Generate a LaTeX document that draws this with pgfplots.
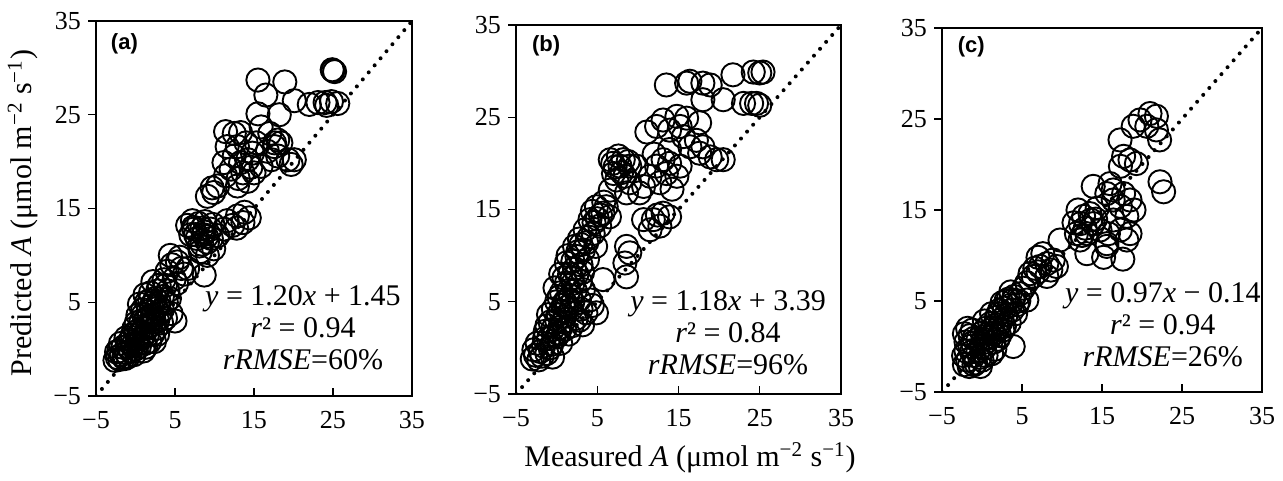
\documentclass[border=0pt]{standalone}
\usepackage{pgfplots}
\pgfplotsset{compat=1.18}
\usepackage{fontspec}
\setmainfont{Liberation Serif}
\newfontfamily\arialfont{Liberation Sans}
\tikzset{
 ann/.style={align=center, font=\fontsize{15}{16}\selectfont},
 plab/.style={anchor=west, font=\arialfont\bfseries\fontsize{11}{13}\selectfont},
}
\pgfplotsset{
 panel/.style={
  scale only axis, anchor=south west,
  xmin=-5,xmax=35,ymin=-5,ymax=35,
  xtick=\empty,
  extra x ticks={-5,5,15,25,35}, extra x tick labels={−5,5,15,25,35},
  extra x tick style={tick align=inside},
  xticklabel style={yshift=-4pt},
  ytick={-5,5,15,25,35}, yticklabels={−5,5,15,25,35},
  tick pos=left, tick align=outside, major tick length=4pt,
  tick style={line width=0.7pt, black},
  tick label style={font=\fontsize{13}{15}\selectfont},
  axis line style={line width=0.8pt},
 },
 circ/.style={only marks, mark=o, mark size=5.8pt, mark options={line width=0.95pt, black}},
 oneone/.style={black, line width=2pt, line cap=round, dash pattern=on 0pt off 4.6pt},
}
\begin{document}
\begin{tikzpicture}
\useasboundingbox (0,0) rectangle (641.5pt,240.5pt);
% ---------------- (a)
\begin{axis}[panel, at={(48pt,42.5pt)}, width=158pt, height=187.5pt]
\addplot[oneone] coordinates {(-5,-5) (35,35)};
\addplot[circ] table {
x y
-2.6 -1.2
-2.3 -0.9
-2.0 -1.1
-1.8 -0.6
-2.4 -0.3
-1.5 -0.9
-1.2 -0.4
-1.6 0.2
-1.0 0.3
-0.6 -0.2
-0.8 0.8
-0.3 0.5
0.0 0.0
0.2 1.0
-0.4 1.5
0.5 0.3
0.8 1.2
1.2 0.6
0.4 2.0
1.0 2.2
1.5 1.5
1.8 0.8
0.1 2.8
0.7 3.0
1.3 3.2
1.9 2.5
2.2 1.6
2.6 2.2
1.6 4.0
2.2 3.6
2.8 3.0
0.9 4.2
1.4 5.0
2.0 4.6
2.6 4.3
3.1 3.8
1.2 5.8
1.9 6.0
2.5 5.4
3.0 5.0
3.4 4.2
2.8 6.2
0.3 3.6
-0.2 2.2
-1.2 1.2
2.4 0.8
1.0 -0.2
3.3 2.8
4.5 3.8
5.0 3.0
-2.1 -0.2
-1.3 -1.0
-0.9 -0.8
-0.2 -0.6
0.3 0.6
0.6 1.7
1.1 1.5
1.6 2.4
2.0 3.2
2.4 2.9
1.7 3.4
1.0 3.7
0.5 4.8
1.8 5.2
2.3 5.0
2.9 4.6
3.4 5.6
3.9 5.0
4.1 6.2
3.0 6.8
2.2 7.2
-0.6 1.0
-1.9 0.6
0.0 1.8
1.3 0.2
2.8 1.6
3.8 3.3
4.3 5.4
3.6 7.4
4.0 8.3
4.6 9.0
5.3 9.3
5.8 8.6
6.2 8.0
4.9 7.5
4.4 10.0
5.6 9.8
6.6 8.6
3.8 6.8
5.2 7.0
6.6 13.2
7.2 13.7
7.4 12.8
8.0 13.4
8.7 12.5
9.5 12.8
7.8 11.8
8.4 11.2
9.1 11.4
9.9 10.7
8.2 10.4
10.4 12.1
9.1 10.0
8.7 7.9
7.0 12.2
9.8 13.3
8.8 13.6
7.6 12.2
8.4 12.9
9.0 12.0
8.1 11.0
9.6 11.8
7.3 13.0
8.6 12.2
12.9 14.2
13.8 14.6
12.3 13.2
13.6 13.5
14.4 14.0
11.6 13.7
11.2 12.8
12.8 12.9
9.9 16.7
10.4 17.4
9.7 17.2
9.1 16.3
11.6 21.6
12.5 20.6
13.3 19.9
14.2 20.2
14.8 20.9
12.1 19.2
13.6 18.8
15.0 18.8
14.2 17.9
12.9 17.4
11.4 18.5
15.9 19.5
14.0 22.0
15.3 22.0
11.2 19.9
12.9 21.6
13.0 18.2
14.6 19.4
16.7 21.1
18.0 20.6
19.3 20.2
20.1 20.2
18.4 22.0
19.7 19.7
17.6 21.6
17.2 20.2
11.4 23.2
13.3 23.1
12.5 23.0
15.9 23.7
17.0 23.0
18.0 22.3
17.6 22.0
15.5 25.1
18.2 25.0
16.5 27.1
15.5 28.7
18.9 28.5
20.1 26.5
22.0 26.1
23.1 26.3
24.0 26.3
24.8 26.4
25.6 26.2
24.2 26.0
25.0 29.7
25.2 29.6
24.9 29.8
};
\node[ann] at (axis cs:21.2,2.25) {\textit{y} = 1.20\textit{x} + 1.45\\ \textit{r}² = 0.94\\ \textit{rRMSE}=60\%};
\node[plab] at (axis cs:-4.0,32.6) {(a)};
\end{axis}
% ---------------- (b)
\begin{axis}[panel, at={(258pt,43.5pt)}, width=162.5pt, height=184.5pt]
\addplot[oneone] coordinates {(-5,-5) (35,35)};
\addplot[circ] table {
x y
-3.0 -1.2
-2.6 -0.8
-2.2 -1.3
-2.0 -0.4
-1.6 0.2
-2.4 0.5
-1.2 -0.6
-1.0 1.0
-0.6 0.4
-0.5 2.0
-1.4 1.8
0.0 1.2
0.0 3.0
-0.8 2.8
0.4 2.2
0.5 4.0
0.0 5.0
1.0 5.0
0.6 6.0
1.0 3.4
1.5 6.2
1.2 7.0
2.0 7.0
1.6 8.0
2.5 8.0
2.0 9.4
3.0 9.0
1.2 9.2
0.5 8.0
2.6 10.4
2.0 5.0
2.4 3.2
1.5 1.5
1.0 2.0
0.5 0.5
-0.5 -1.0
2.8 3.0
3.2 2.5
2.8 5.2
3.3 6.3
-1.0 3.6
-0.2 6.5
1.8 4.2
3.6 3.8
4.4 4.6
4.9 3.8
4.1 5.2
2.2 11.0
-2.8 -0.2
-1.8 -0.9
-1.5 1.0
-0.8 0.0
-0.3 1.4
0.3 1.6
0.2 3.6
-0.4 4.2
0.8 4.6
0.3 5.5
1.3 4.4
1.7 5.6
0.9 7.6
1.9 7.6
2.3 6.2
2.9 7.2
3.2 8.2
2.2 8.6
1.4 10.0
2.8 11.8
3.0 4.2
1.9 2.4
-1.2 2.4
0.8 2.8
3.8 9.6
2.5 9.9
3.3 10.6
3.7 11.4
4.5 12.4
5.3 13.2
4.1 13.9
5.7 14.6
4.9 15.3
6.1 15.3
3.5 12.8
4.8 11.0
6.5 14.2
5.0 14.0
4.0 12.0
4.6 13.6
5.4 14.4
3.0 11.2
5.8 15.8
4.4 14.8
8.6 11.0
9.0 10.3
8.4 9.2
8.6 7.7
5.7 7.4
6.6 20.4
8.2 20.4
7.8 19.7
7.0 18.9
9.0 19.7
7.4 18.2
9.0 17.9
10.2 16.8
8.6 16.8
6.6 17.1
9.8 19.7
7.6 20.8
8.4 18.6
7.2 19.6
8.0 19.0
8.8 20.2
6.9 20.0
13.9 21.5
13.1 20.4
12.3 19.7
13.5 18.9
14.8 18.6
11.5 18.6
13.9 20.0
12.7 17.9
15.2 19.7
10.7 17.5
12.0 21.0
14.2 17.2
11.9 13.9
13.1 14.6
13.9 14.2
11.5 12.8
12.7 13.2
10.7 13.9
12.4 14.4
17.2 22.5
18.0 21.8
18.9 20.7
19.7 20.4
17.6 21.1
16.4 21.8
20.5 20.4
15.6 22.9
13.1 24.7
14.8 25.1
16.0 24.9
17.6 24.4
11.1 23.4
12.3 24.0
13.9 23.6
15.2 24.0
13.5 28.5
16.0 28.7
18.0 28.7
18.9 28.5
16.4 28.9
18.0 26.9
20.5 26.9
23.0 26.5
24.0 26.5
24.6 26.5
25.0 26.3
21.7 29.6
24.2 29.9
25.4 29.9
25.0 29.8
};
\node[ann] at (axis cs:21.1,1.6) {\textit{y} = 1.18\textit{x} + 3.39\\ \textit{r}² = 0.84\\ \textit{rRMSE}=96\%};
\node[plab] at (axis cs:-3.9,32.7) {(b)};
\end{axis}
% ---------------- (c)
\begin{axis}[panel, at={(471pt,44.5pt)}, width=160pt, height=182pt]
\addplot[oneone] coordinates {(-5,-5) (35,35)};
\addplot[circ] table {
x y
-2.2 -2.0
-1.8 -1.5
-2.0 -0.5
-1.5 0.0
-1.0 -1.0
-0.5 -0.5
0.0 0.0
0.5 0.5
-0.5 0.8
-1.5 1.2
-2.0 0.5
1.0 1.0
1.5 1.5
0.5 2.0
1.0 2.5
2.0 2.0
2.5 3.0
1.8 3.2
3.0 3.5
2.2 4.0
3.5 4.5
3.0 5.0
4.0 5.5
2.5 4.8
0.0 -1.5
-1.0 -2.0
0.5 -1.0
1.2 -0.8
3.9 0.0
-1.8 2.0
0.0 1.5
1.5 0.5
-0.8 -1.8
-2.2 1.4
-1.2 0.4
0.3 -0.2
2.0 0.8
2.6 1.8
3.4 2.6
4.2 3.6
3.6 6.0
4.4 4.6
-2.3 -1.0
-1.6 -2.2
-1.3 -0.6
-0.3 -1.2
0.2 0.8
-1.0 0.9
0.8 1.4
1.3 2.0
1.8 2.4
2.3 2.6
2.8 2.2
1.2 3.6
2.0 3.6
2.8 4.2
3.3 5.2
3.8 4.0
4.6 5.0
1.6 -0.3
-1.2 1.8
0.3 2.8
-0.2 -2.2
2.2 1.2
4.75 5.8
3.9 5.1
5.6 5.1
5.6 7.0
6.4 7.7
8.1 7.7
7.25 8.8
8.1 9.1
9.3 8.8
8.9 9.5
7.0 9.8
6.6 8.6
7.6 10.2
9.75 11.7
6.0 8.0
7.0 8.2
8.6 8.4
5.2 6.4
12.7 14.3
13.5 14.6
12.3 13.5
13.9 13.5
11.8 12.4
13.1 12.4
14.75 12.8
13.1 10.2
15.6 11.0
12.25 11.7
14.4 15.2
12.0 15.0
11.5 13.6
12.9 13.0
13.6 13.9
12.5 12.2
14.2 14.0
13.9 17.6
16.0 17.9
16.4 17.2
17.7 16.8
18.5 16.1
16.4 16.1
15.6 16.8
17.3 15.4
19.0 15.0
18.1 14.3
16.4 13.9
17.3 12.8
18.5 12.4
15.8 12.4
18.1 11.7
15.6 11.3
15.2 9.8
17.6 9.6
17.7 20.9
18.5 20.5
19.3 20.1
17.3 19.8
22.25 18.1
22.7 17.0
17.25 22.7
21.0 25.6
19.75 24.9
21.8 25.3
18.9 24.2
20.6 24.2
21.8 23.8
22.2 22.7
};
\node[ann] at (axis cs:22.6,2.4) {\textit{y} = 0.97\textit{x} − 0.14\\ \textit{r}² = 0.94\\ \textit{rRMSE}=26\%};
\node[plab] at (axis cs:-3.9,32.9) {(c)};
\end{axis}
\node[rotate=90, font=\fontsize{15}{18}\selectfont] at (11.5pt,134pt) {Predicted \textit{A} (μmol m\textsuperscript{−2} s\textsuperscript{−1})};
\node[font=\fontsize{15}{18}\selectfont] at (345pt,11.5pt) {Measured \textit{A} (μmol m\textsuperscript{−2} s\textsuperscript{−1})};
\end{tikzpicture}
\end{document}
